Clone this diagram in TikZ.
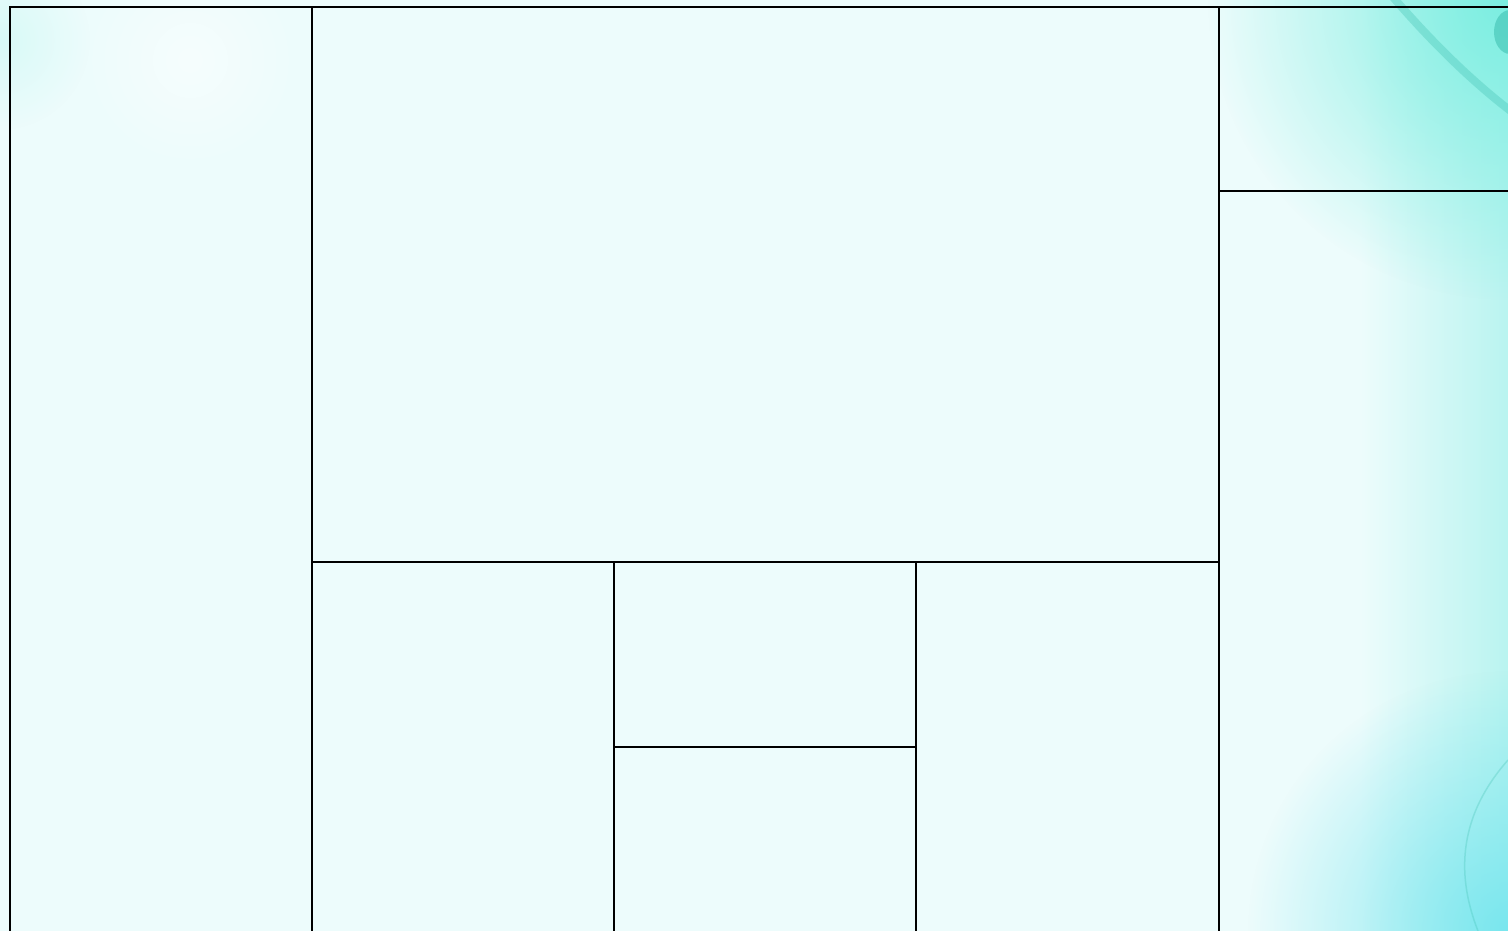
\documentclass[tikz,border=0pt]{standalone}
\usetikzlibrary{fadings}
\definecolor{bgcyan}{RGB}{237,252,252}
\definecolor{tealglow}{RGB}{120,238,224}
\definecolor{stripcyan}{RGB}{185,244,240}
\definecolor{tealdark}{RGB}{60,190,175}
\definecolor{cyanglow}{RGB}{110,228,238}
\tikzfading[name=radfade, inner color=transparent!0, outer color=transparent!100]
\tikzset{grid line/.style={line width=2.6pt, black}}
\begin{document}
\begin{tikzpicture}[x=1pt,y=-1pt]
\useasboundingbox (0,0) rectangle (1508,931);
% background
\fill[bgcyan] (0,0) rectangle (1508,931);
\shade[left color=bgcyan, right color=stripcyan] (1360,0) rectangle (1508,931);
\fill[tealglow, path fading=radfade, opacity=0.95] (1508,0) circle (300);
\fill[cyanglow, path fading=radfade, opacity=0.85] (1508,931) circle (260);
\fill[tealglow, path fading=radfade, opacity=0.18] (0,40) circle (90);
\fill[white, path fading=radfade, opacity=0.5] (190,60) circle (110);
% decorative arcs
\draw[tealdark, line width=8pt, opacity=0.32, line cap=round] (1392,-4) .. controls (1430,40) and (1470,80) .. (1512,112);
\fill[tealdark, opacity=0.55] (1510,32) ellipse (16 and 22);
\draw[tealdark, line width=1.5pt, opacity=0.28] (1508,760) .. controls (1455,820) and (1458,880) .. (1478,931);
% rectangles
\draw[grid line] (10,931) -- (10,7) -- (1508,7);
\draw[grid line] (312,7) -- (312,931);
\draw[grid line] (1219,7) -- (1219,931);
\draw[grid line] (1219,191) -- (1508,191);
\draw[grid line] (312,562) -- (1219,562);
\draw[grid line] (614,562) -- (614,931);
\draw[grid line] (916,562) -- (916,931);
\draw[grid line] (614,747) -- (916,747);
\end{tikzpicture}
\end{document}
